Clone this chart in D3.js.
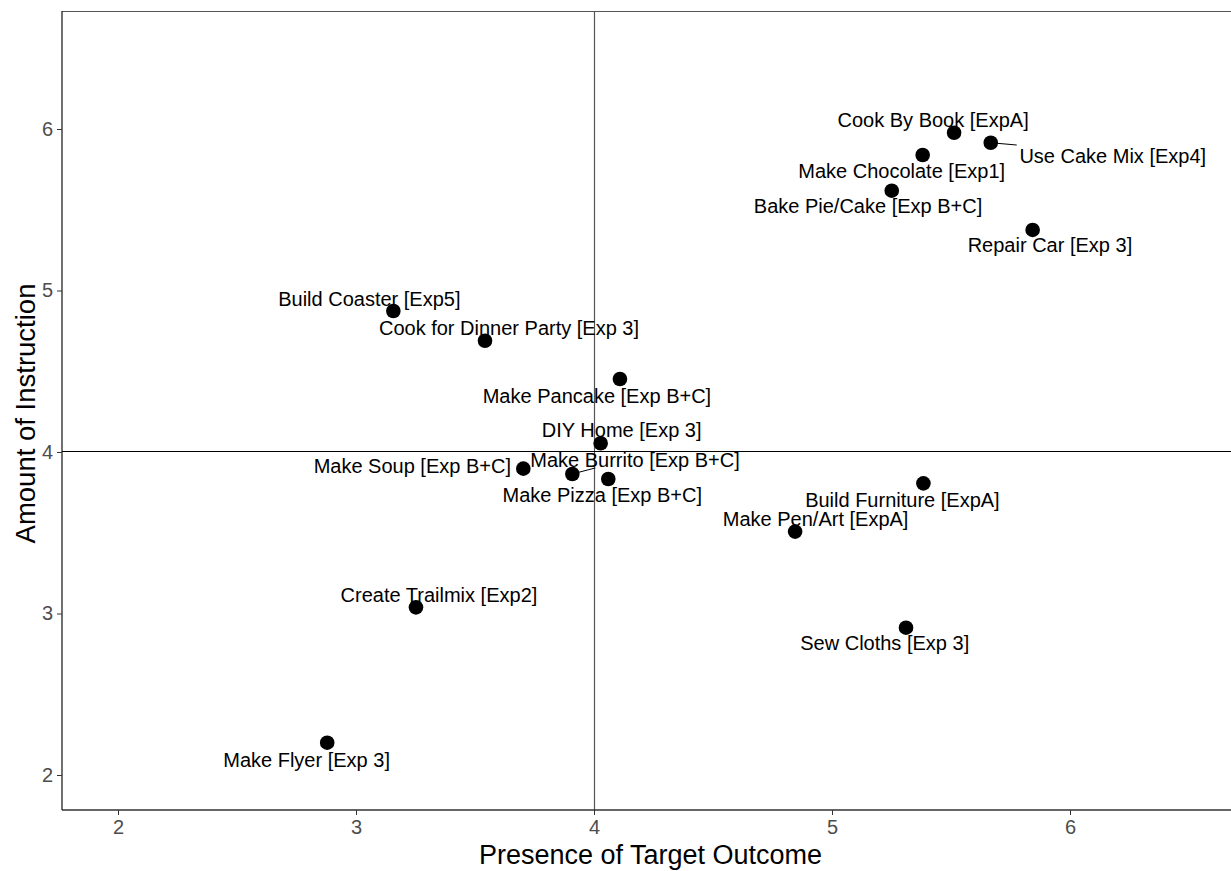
<!DOCTYPE html>
<html>
<head>
<meta charset="utf-8">
<script src="https://cdn.jsdelivr.net/npm/d3@7"></script>
<style>
  html, body { margin: 0; padding: 0; background: #ffffff; }
  svg { display: block; font-family: "Liberation Sans", Arial, Helvetica, sans-serif; }
</style>
</head>
<body>
<svg id="chart" width="1231" height="871"></svg>
<script>
// ---- data ----
const tasks = [
  "Cook By Book [ExpA]", "Use Cake Mix [Exp4]", "Make Chocolate [Exp1]", "Bake Pie/Cake [Exp B+C]",
  "Repair Car [Exp 3]", "Build Coaster [Exp5]", "Cook for Dinner Party [Exp 3]", "Make Pancake [Exp B+C]",
  "DIY Home [Exp 3]", "Make Soup [Exp B+C]", "Make Burrito [Exp B+C]", "Make Pizza [Exp B+C]",
  "Build Furniture [ExpA]", "Make Pen/Art [ExpA]", "Sew Cloths [Exp 3]", "Create Trailmix [Exp2]",
  "Make Flyer [Exp 3]"
];
const targetOutcome = [5.513, 5.667, 5.381, 5.251, 5.843, 3.157, 3.542, 4.109, 4.028, 3.703, 3.909, 4.060, 5.384, 4.845, 5.311, 3.252, 2.879];
const instruction   = [5.977, 5.915, 5.839, 5.618, 5.375, 4.873, 4.689, 4.452, 4.054, 3.897, 3.864, 3.833, 3.806, 3.507, 2.912, 3.038, 2.200];
const xTicks = [2, 3, 4, 5, 6];
const yTicks = [2, 3, 4, 5, 6];
const xTitle = "Presence of Target Outcome";
const yTitle = "Amount of Instruction";
const refX = 4, refY = 4;

// ---- label layout (repel-style pixel nudges: dx, dy to label centre/baseline; optional leader end) ----
const labelNudge = [
  {dx: -21, dy: -6}, {dx: 122, dy: 20, seg: [26, 2.3]}, {dx: -21, dy: 23.3}, {dx: -23.7, dy: 22.6},
  {dx: 17.3, dy: 21.7}, {dx: -24, dy: -5}, {dx: 24, dy: -5.7}, {dx: -23, dy: 24.3},
  {dx: 21, dy: -6.6}, {dx: -111, dy: 4}, {dx: 62.7, dy: -7.3, seg: [23, -6]}, {dx: -6, dy: 23},
  {dx: -21, dy: 23.4}, {dx: 20.5, dy: -5.7}, {dx: -21.3, dy: 22.3}, {dx: 23, dy: -5},
  {dx: -20.6, dy: 24}
];

// ---- layout ----
const W = 1231, H = 871;
const plot = {left: 62, top: 11, right: 1231, bottom: 810};

const x = d3.scaleLinear()
  .domain([2 - 56 / 238, 6 + 161 / 238])
  .range([plot.left, plot.right]);
const y = d3.scaleLinear()
  .domain([2 - 35 / 161.5, 6 + 118 / 161.5])
  .range([plot.bottom, plot.top]);

const svg = d3.select("#chart");
svg.append("rect").attr("width", W).attr("height", H).attr("fill", "#ffffff");

const points = tasks.map((t, i) => ({name: t, x: targetOutcome[i], y: instruction[i], n: labelNudge[i]}));

// top border line
svg.append("line")
  .attr("x1", plot.left).attr("x2", plot.right)
  .attr("y1", plot.top + 0.5).attr("y2", plot.top + 0.5)
  .attr("stroke", "#555").attr("stroke-width", 1);

// reference lines
svg.append("line")
  .attr("x1", Math.round(x(refX)) + 0.5).attr("x2", Math.round(x(refX)) + 0.5)
  .attr("y1", plot.top).attr("y2", plot.bottom)
  .attr("stroke", "#555").attr("stroke-width", 1.2);
svg.append("line")
  .attr("x1", plot.left).attr("x2", plot.right)
  .attr("y1", Math.round(y(refY)) - 0.5).attr("y2", Math.round(y(refY)) - 0.5)
  .attr("stroke", "#000").attr("stroke-width", 1.1);

// axes
const xAxis = d3.axisBottom(x).tickValues(xTicks).tickSize(5).tickPadding(5).tickFormat(d3.format("d"));
const yAxis = d3.axisLeft(y).tickValues(yTicks).tickSize(5).tickPadding(4).tickFormat(d3.format("d"));

const gx = svg.append("g").attr("transform", `translate(0,${plot.bottom})`).call(xAxis);
gx.select(".domain").attr("d", `M${plot.left},0H${plot.right}`).attr("stroke", "#333").attr("stroke-width", 1.6);
gx.selectAll(".tick line").attr("stroke", "#333").attr("stroke-width", 1);
gx.selectAll(".tick text").attr("fill", "#4d4d4d").style("font-size", "20px")
  .style("font-family", "'Liberation Sans', Arial, sans-serif");

const gy = svg.append("g").attr("transform", `translate(${plot.left},0)`).call(yAxis);
gy.select(".domain").attr("d", `M0,${plot.top}V${plot.bottom}`).attr("stroke", "#111").attr("stroke-width", 1.2);
gy.selectAll(".tick line").attr("stroke", "#333").attr("stroke-width", 1);
gy.selectAll(".tick text").attr("fill", "#4d4d4d").style("font-size", "20px")
  .style("font-family", "'Liberation Sans', Arial, sans-serif");

// leader segments
svg.append("g").selectAll("line")
  .data(points.filter(p => p.n.seg))
  .join("line")
  .attr("x1", p => x(p.x)).attr("y1", p => y(p.y))
  .attr("x2", p => x(p.x) + p.n.seg[0]).attr("y2", p => y(p.y) + p.n.seg[1])
  .attr("stroke", "#000").attr("stroke-width", 1);

// points
svg.append("g").selectAll("circle")
  .data(points)
  .join("circle")
  .attr("cx", p => x(p.x)).attr("cy", p => y(p.y))
  .attr("r", 7.3).attr("fill", "#000");

// labels
svg.append("g").selectAll("text")
  .data(points)
  .join("text")
  .attr("x", p => x(p.x) + p.n.dx)
  .attr("y", p => y(p.y) + p.n.dy)
  .attr("text-anchor", "middle")
  .attr("fill", "#000")
  .style("font-size", "20px")
  .text(p => p.name);

// axis titles
svg.append("text")
  .attr("x", (plot.left + plot.right) / 2 + 4)
  .attr("y", 864)
  .attr("text-anchor", "middle")
  .attr("fill", "#000")
  .style("font-size", "27px")
  .text(xTitle);

svg.append("text")
  .attr("transform", `translate(35,${(plot.top + plot.bottom) / 2 + 3}) rotate(-90)`)
  .attr("text-anchor", "middle")
  .attr("fill", "#000")
  .style("font-size", "27.5px")
  .text(yTitle);
</script>
</body>
</html>
